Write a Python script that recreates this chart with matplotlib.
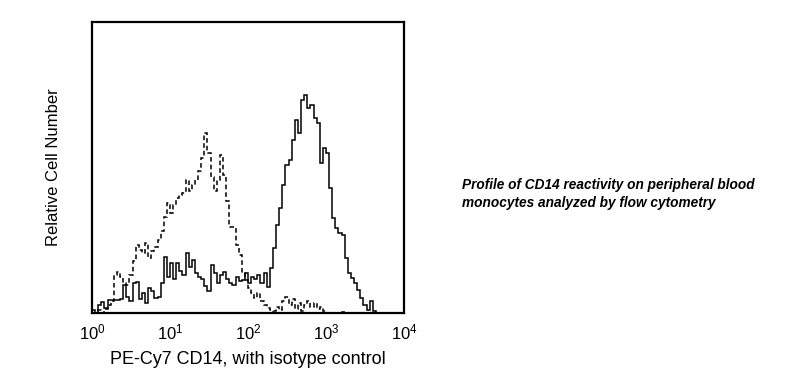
import numpy as np
import matplotlib
matplotlib.use("Agg")
import matplotlib.pyplot as plt

plt.rcParams['font.family'] = ['Liberation Sans', 'DejaVu Sans']
plt.rcParams['mathtext.fontset'] = 'custom'
plt.rcParams['mathtext.rm'] = 'Liberation Sans'
plt.rcParams['mathtext.it'] = 'Liberation Sans:italic'

# 100 channels spread over 4 decades (10^0 .. 10^4)
n_channels = 100
edges = 10 ** np.linspace(0, 4, n_channels + 1)

# PE-Cy7 CD14 stained monocytes (solid)
cd14 = [3, 0, 8, 11, 5, 13, 13, 13, 13, 14,
        28, 16, 12, 30, 31, 14, 20, 10, 25, 22,
        15, 16, 30, 56, 36, 50, 34, 50, 42, 38,
        60, 46, 53, 40, 36, 34, 27, 22, 48, 40,
        30, 38, 41, 34, 30, 28, 36, 32, 33, 40,
        30, 36, 34, 38, 30, 40, 26, 45, 65, 88,
        105, 128, 148, 153, 173, 193, 180, 213, 218, 205,
        208, 195, 190, 150, 165, 160, 125, 95, 85, 80,
        78, 55, 40, 35, 30, 23, 15, 8, 3, 12,
        2, 0, 0, 0, 0, 0, 0, 0, 0, 0]

# isotype control (dashed)
isotype = [0, 0, 3, 0, 4, 8, 12, 38, 41, 36,
           30, 28, 38, 52, 68, 63, 60, 70, 55, 62,
           66, 73, 82, 96, 110, 100, 108, 115, 118, 120,
           133, 122, 128, 133, 142, 155, 180, 160, 136, 122,
           133, 158, 138, 112, 86, 86, 68, 58, 40, 33,
           25, 20, 15, 20, 12, 8, 5, 3, 2, 6,
           3, 12, 16, 8, 14, 4, 10, 2, 8, 12,
           6, 10, 4, 6, 2, 0, 0, 0, 0, 0,
           1, 0, 0, 0, 0, 0, 0, 0, 0, 0,
           0, 0, 0, 0, 0, 0, 0, 0, 0, 0]

tick_pos = [1, 10, 100, 1000, 10000]
tick_labels = [r'$10^{0}$', r'$10^{1}$', r'$10^{2}$', r'$10^{3}$', r'$10^{4}$']

fig = plt.figure(figsize=(8.05, 3.88), dpi=100)
ax = fig.add_axes([92 / 805, 75 / 388, 312 / 805, 291 / 388])

ax.stairs(isotype, edges, color='black', lw=1.1, linestyle=(0, (3, 2)))
ax.stairs(cd14, edges, color='black', lw=1.1)

ax.set_xscale('log')
ax.set_xlim(1, 10000)
ax.set_ylim(0, 291)
ax.set_xticks(tick_pos)
ax.set_xticklabels(tick_labels, fontsize=12)
ax.minorticks_off()
ax.tick_params(axis='x', length=0, pad=7)
ax.set_yticks([])
for s in ax.spines.values():
    s.set_linewidth(1.6)

ax.set_xlabel('PE-Cy7 CD14, with isotype control', fontsize=13, labelpad=6)
ax.set_ylabel('Relative Cell Number', fontsize=12, labelpad=22)

fig.text(462 / 805, 1 - 194 / 388, 'Profile of CD14 reactivity on peripheral blood\nmonocytes analyzed by flow cytometry',
         fontsize=9.8, fontweight='bold', fontstyle='italic', va='center', ha='left', linespacing=1.3)

fig.savefig('out.png', dpi=100)
